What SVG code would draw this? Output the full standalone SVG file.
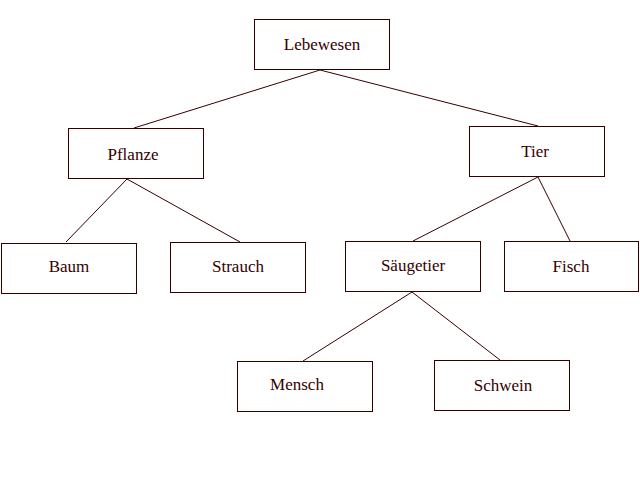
<svg xmlns="http://www.w3.org/2000/svg" width="640" height="480" viewBox="0 0 640 480">
<style>
rect{fill:#fff;stroke:#330000;stroke-width:1}
text{font-family:"Liberation Serif","Times New Roman",serif;font-size:17px;fill:#330000;text-anchor:middle}
#edges line{stroke:#330000;stroke-width:1}
</style>
<rect x="0" y="0" width="640" height="480" style="stroke:none"/>
<g id="edges">
<line x1="320" y1="70" x2="134" y2="128"/>
<line x1="320" y1="70" x2="538" y2="126"/>
<line x1="127" y1="179" x2="66" y2="242"/>
<line x1="127" y1="179" x2="240" y2="242"/>
<line x1="538" y1="177" x2="413" y2="241"/>
<line x1="538" y1="177" x2="570" y2="241"/>
<line x1="412" y1="292" x2="303" y2="361"/>
<line x1="412" y1="292" x2="500" y2="360"/>
</g>
<g id="lebewesen"><rect x="254.5" y="19.5" width="135" height="50"/><text x="322" y="50">Lebewesen</text></g>
<g id="pflanze"><rect x="68.5" y="128.5" width="135" height="50"/><text x="133" y="160">Pflanze</text></g>
<g id="tier"><rect x="469.5" y="126.5" width="135" height="50"/><text x="535" y="157">Tier</text></g>
<g id="baum"><rect x="1.5" y="243.5" width="135" height="50"/><text x="69" y="272">Baum</text></g>
<g id="strauch"><rect x="170.5" y="242.5" width="135" height="50"/><text x="238" y="272">Strauch</text></g>
<g id="saeugetier"><rect x="345.5" y="241.5" width="135" height="50"/><text x="413" y="271">Säugetier</text></g>
<g id="fisch"><rect x="504.5" y="241.5" width="134" height="50"/><text x="571" y="272">Fisch</text></g>
<g id="mensch"><rect x="237.5" y="361.5" width="135" height="50"/><text x="297" y="390">Mensch</text></g>
<g id="schwein"><rect x="434.5" y="360.5" width="135" height="50"/><text x="503" y="391">Schwein</text></g>
</svg>
